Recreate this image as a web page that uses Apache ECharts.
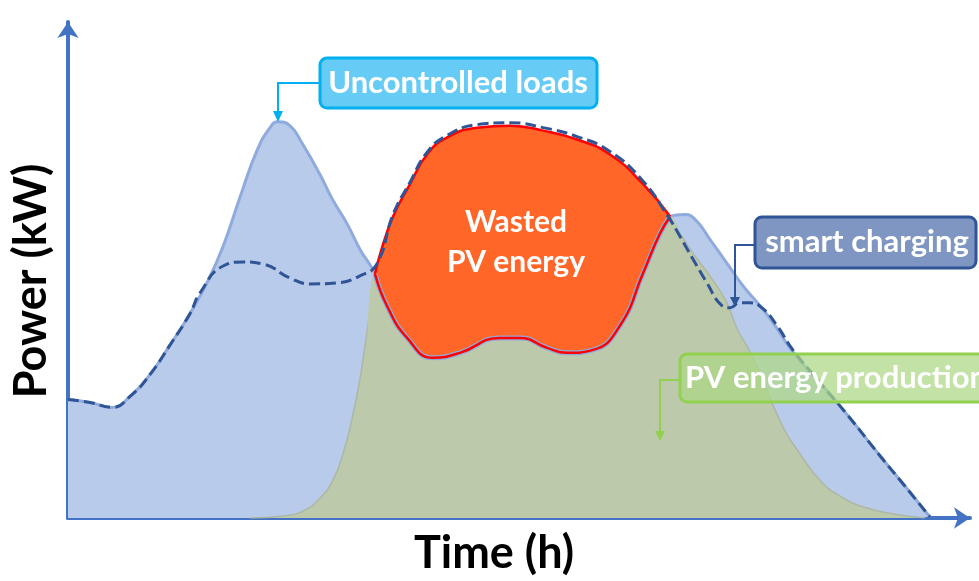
<!DOCTYPE html>
<html>
<head>
<meta charset="utf-8">
<script src="https://cdn.jsdelivr.net/npm/echarts@6/dist/echarts.min.js"></script>
<style>
html, body { margin: 0; padding: 0; background: #fff; }
#main { width: 979px; height: 581px; }
</style>
</head>
<body>
<div id="main"></div>
<script>
// hours / kW
var loadHours = [0, 0.61, 1.22, 1.72, 2.27, 2.83, 3.38, 3.85, 4.30, 4.77, 5.24, 5.60, 5.82, 6.15, 6.51, 6.98, 7.34, 7.73, 8.09, 8.51,
    8.84, 9.40, 10.12, 10.86, 11.97, 12.53, 13.28, 13.83, 14.55, 15.30, 15.94, 16.41, 16.69, 17.10, 17.43, 17.79, 18.26, 18.71,
    19.18, 19.54, 20.09, 20.84, 21.59, 22.51, 23.20, 23.89];
var loadKw = [2.39, 2.33, 2.23, 2.45, 2.89, 3.49, 4.12, 4.74, 5.48, 6.47, 7.41, 7.87, 7.99, 7.91, 7.53, 6.93, 6.41, 5.94, 5.42, 4.92,
    4.28, 3.63, 3.23, 3.33, 3.63, 3.63, 3.43, 3.33, 3.39, 3.88, 4.94, 5.74, 6.08, 6.12, 5.98, 5.62, 5.14, 4.68,
    4.28, 3.94, 3.35, 2.73, 2.09, 1.25, 0.64, 0.02];

var pvHours = [5.04, 5.96, 6.51, 6.98, 7.34, 7.62, 7.87, 8.09, 8.31, 8.51, 8.65, 9.01, 9.48, 9.95, 10.50, 11.34, 12.25, 13.17,
    14.11, 15.02, 15.94, 16.69, 16.96, 17.32, 17.79, 18.26, 18.54, 18.90, 19.82, 20.29, 20.84, 21.40, 22.14, 23.06, 23.75];
var pvKw = [0, 0.04, 0.14, 0.40, 0.76, 1.29, 1.99, 2.79, 3.88, 4.92, 5.32, 6.08, 6.73, 7.33, 7.67, 7.87, 7.91, 7.81,
    7.63, 7.33, 6.73, 6.08, 5.74, 5.34, 4.88, 4.34, 3.82, 3.35, 1.83, 1.29, 0.76, 0.44, 0.20, 0.06, 0];

var smartHours = [0, 0.61, 1.22, 1.72, 2.27, 2.83, 3.38, 3.66, 4.30, 4.85, 5.40, 6.15, 6.71, 7.46, 8.09, 8.56, 9.01, 9.48, 9.95,
    10.50, 11.34, 12.25, 13.17, 14.11, 15.02, 15.94, 16.63, 16.96, 17.32, 17.71, 18.07, 18.35, 18.62, 18.90, 19.26, 19.65,
    20.09, 20.84, 21.59, 22.51, 23.20, 23.89];
var smartKw = [2.39, 2.33, 2.23, 2.45, 2.89, 3.49, 4.12, 4.54, 5.08, 5.16, 5.12, 4.84, 4.72, 4.74, 4.88, 5.12, 6.12, 6.77, 7.37,
    7.71, 7.93, 7.97, 7.87, 7.69, 7.39, 6.79, 6.08, 5.68, 5.22, 4.74, 4.32, 4.24, 4.34, 4.34, 4.22, 3.88,
    3.39, 2.73, 2.09, 1.25, 0.64, 0.02];

// PV above the load between these hours
var wasteStart = 8.51;
var wasteEnd = 16.69;

function pairs(xs, ys) {
    var out = [];
    for (var i = 0; i < xs.length; i++) out.push([xs[i], ys[i]]);
    return out;
}
function between(data, a, b) {
    return data.filter(function (d) { return d[0] >= a && d[0] <= b; });
}

var loadData = pairs(loadHours, loadKw);
var pvData = pairs(pvHours, pvKw);
var smartData = pairs(smartHours, smartKw);
var loadPart = between(loadData, wasteStart, wasteEnd);

// green patch that covers the orange below the load, padded with the pv point on each side
var pvBefore = pvData.filter(function (d) { return d[0] < wasteStart; }).pop();
var pvAfter = pvData.filter(function (d) { return d[0] > wasteEnd; })[0];
var coverData = [pvBefore].concat(loadPart, [pvAfter]);

var blueFill = '#b9cbea';
var greenFill = '#bccaab';
var fontFam = 'Lato, "Open Sans", sans-serif';

var chart = echarts.init(document.getElementById('main'));
chart.setOption({
    animation: false,
    grid: { left: 68, right: 9, top: 22, bottom: 56 },
    xAxis: {
        type: 'value', min: 0, max: 25,
        name: 'Time (h)', nameLocation: 'middle', nameGap: 13,
        nameTextStyle: { color: '#000', fontSize: 45, fontWeight: 'bold', fontFamily: fontFam, verticalAlign: 'top', padding: [0, 50, 0, 0] },
        axisLine: { show: true, symbol: ['none', 'arrow'], symbolSize: [16, 16], lineStyle: { color: '#4472c4', width: 4 } },
        axisTick: { show: false }, axisLabel: { show: false }, splitLine: { show: false }
    },
    yAxis: {
        type: 'value', min: 0, max: 10,
        name: 'Power (kW)', nameLocation: 'middle', nameGap: 14,
        nameTextStyle: { color: '#000', fontSize: 45, fontWeight: 'bold', fontFamily: fontFam, verticalAlign: 'bottom', padding: [0, 22, 0, 0] },
        axisLine: { show: true, symbol: ['none', 'arrow'], symbolSize: [16, 16], lineStyle: { color: '#4472c4', width: 4 } },
        axisTick: { show: false }, axisLabel: { show: false }, splitLine: { show: false }
    },
    series: [{
        name: 'Uncontrolled loads', type: 'line', smooth: 0.5, symbol: 'none', z: 1,
        data: loadData,
        lineStyle: { color: '#8faadc', width: 3 },
        areaStyle: { color: blueFill, opacity: 1 }
    }, {
        name: 'PV energy production', type: 'line', smooth: 0.5, symbol: 'none', z: 2,
        data: pvData,
        lineStyle: { color: '#adb7a4', width: 1.5 },
        areaStyle: { color: greenFill, opacity: 1 }
    }, {
        name: 'Wasted PV energy', type: 'line', smooth: 0.5, symbol: 'none', z: 3,
        data: between(pvData, wasteStart, wasteEnd),
        lineStyle: { color: '#ff0000', width: 2.5 },
        areaStyle: { color: '#ff6628', opacity: 1 }
    }, {
        name: 'cover', type: 'line', smooth: 0.5, symbol: 'none', z: 4,
        data: coverData,
        lineStyle: { width: 0 },
        areaStyle: { color: greenFill, opacity: 1 }
    }, {
        name: 'load line', type: 'line', smooth: 0.5, symbol: 'none', z: 5,
        data: loadPart,
        lineStyle: { color: '#8faadc', width: 5 }
    }, {
        name: 'load edge', type: 'line', smooth: 0.5, symbol: 'none', z: 6,
        data: loadPart,
        lineStyle: { color: '#ff0000', width: 2.5 }
    }, {
        name: 'smart charging', type: 'line', smooth: 0.5, symbol: 'none', z: 7,
        data: smartData,
        lineStyle: { color: '#2f5597', width: 3, type: [11, 5] }
    }],
    graphic: [
        // uncontrolled loads callout
        { type: 'polyline', z: 10, shape: { points: [[320, 83], [278, 83], [278, 112]] }, style: { stroke: '#00b0f0', lineWidth: 2, fill: null } },
        { type: 'polygon', z: 10, shape: { points: [[273, 111], [283, 111], [278, 122]] }, style: { fill: '#00b0f0' } },
        { type: 'rect', z: 10, shape: { x: 320, y: 58, width: 277, height: 50, r: 7 }, style: { fill: '#66ccf5', stroke: '#00b0f0', lineWidth: 3 } },
        { type: 'text', z: 11, x: 458, y: 83, style: { text: 'Uncontrolled loads', fill: '#fff', font: 'bold 31px ' + fontFam, align: 'center', verticalAlign: 'middle', textAlign: 'center', textVerticalAlign: 'middle' } },
        // smart charging callout
        { type: 'polyline', z: 10, shape: { points: [[755, 245], [735, 245], [735, 298]] }, style: { stroke: '#2f5597', lineWidth: 2, fill: null } },
        { type: 'polygon', z: 10, shape: { points: [[730, 297], [740, 297], [735, 307]] }, style: { fill: '#2f5597' } },
        { type: 'rect', z: 10, shape: { x: 755, y: 217, width: 221, height: 51, r: 7 }, style: { fill: '#7f96c3', stroke: '#2f5597', lineWidth: 3 } },
        { type: 'text', z: 11, x: 867, y: 242, style: { text: 'smart charging', fill: '#fff', font: 'bold 31px ' + fontFam, align: 'center', verticalAlign: 'middle', textAlign: 'center', textVerticalAlign: 'middle' } },
        // pv production callout
        { type: 'polyline', z: 10, shape: { points: [[680, 380], [660, 380], [660, 432]] }, style: { stroke: '#92d050', lineWidth: 2, fill: null } },
        { type: 'polygon', z: 10, shape: { points: [[655, 431], [665, 431], [660, 441]] }, style: { fill: '#92d050' } },
        { type: 'rect', z: 10, shape: { x: 680, y: 354, width: 330, height: 48, r: 7 }, style: { fill: 'rgba(172,216,132,0.72)', stroke: '#92d050', lineWidth: 3 } },
        { type: 'text', z: 11, x: 685, y: 378, style: { text: 'PV energy production', fill: '#fff', font: 'bold 31px ' + fontFam, align: 'left', verticalAlign: 'middle', textAlign: 'left', textVerticalAlign: 'middle' } },
        // wasted energy label
        { type: 'text', z: 11, x: 516, y: 242, style: { text: 'Wasted\nPV energy', fill: '#fff', font: 'bold 30px ' + fontFam, lineHeight: 40, align: 'center', verticalAlign: 'middle', textAlign: 'center', textVerticalAlign: 'middle' } }
    ]
});
</script>
</body>
</html>
